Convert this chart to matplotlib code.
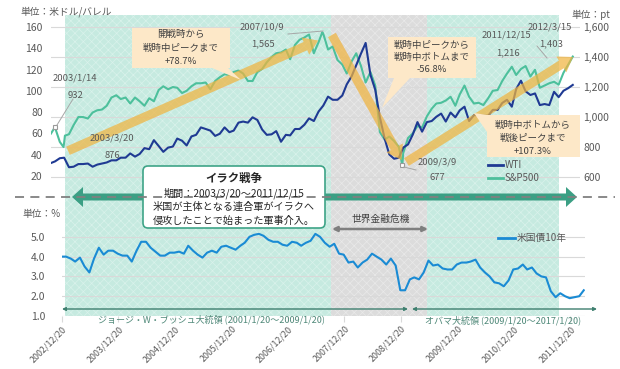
import matplotlib
matplotlib.use('Agg')
import matplotlib.pyplot as plt
import matplotlib.dates as mdates
from matplotlib.patches import Polygon, FancyBboxPatch, FancyArrowPatch
import pandas as pd

plt.rcParams['font.family'] = ['Noto Sans CJK JP', 'DejaVu Sans']
plt.rcParams['hatch.linewidth'] = 0.5

# ---------------- data ----------------
month_dates = [pd.Timestamp('2002-12-20')] + [pd.Timestamp(y, m, 15) for y in range(2003, 2013)
                                              for m in range(1, 13) if (y, m) <= (2012, 3)]

wti = [32.0,
       33.5, 36.5, 37.0, 28.0, 28.5, 31.0, 31.0, 31.5, 28.5, 30.5, 31.5, 32.5,
       34.5, 34.5, 37.0, 37.0, 41.0, 38.0, 40.5, 46.0, 45.0, 53.5, 48.0, 42.5,
       46.5, 47.5, 55.0, 53.0, 48.5, 57.0, 58.5, 65.5, 64.0, 62.5, 57.5, 59.5,
       65.5, 61.0, 62.5, 70.0, 71.0, 70.0, 75.0, 72.5, 63.5, 58.5, 59.0, 62.0,
       52.0, 58.5, 58.0, 64.0, 64.0, 68.0, 74.0, 71.5, 80.5, 86.0, 94.5, 91.5,
       91.5, 95.5, 106.0, 113.5, 124.0, 135.0, 145.0, 115.0, 101.0, 75.0, 55.0, 40.0,
       36.0, 37.0, 46.5, 49.5, 58.5, 70.5, 61.5, 70.5, 71.5, 75.5, 78.5, 71.0,
       79.5, 75.0, 81.5, 85.0, 71.5, 77.0, 77.0, 76.5, 76.5, 82.0, 82.0, 88.5,
       91.5, 85.0, 101.5, 109.5, 99.5, 96.0, 97.5, 86.5, 87.5, 86.5, 99.0, 94.0,
       100.0, 102.5, 105.5]

sp500 = [890,
         930, 834, 830, 885, 946, 1000, 1000, 990, 1030, 1045, 1050, 1075,
         1130, 1145, 1120, 1130, 1090, 1130, 1105, 1075, 1125, 1105, 1180, 1205,
         1185, 1200, 1195, 1160, 1175, 1205, 1225, 1225, 1230, 1185, 1240, 1265,
         1285, 1280, 1300, 1310, 1290, 1240, 1240, 1300, 1320, 1365, 1400, 1425,
         1430, 1450, 1385, 1480, 1515, 1530, 1550, 1425, 1500, 1555, 1450, 1470,
         1380, 1350, 1290, 1370, 1425, 1340, 1230, 1300, 1210, 900, 850, 870,
         840, 800, 760, 860, 890, 940, 930, 1005, 1055, 1090, 1095, 1110,
         1135, 1075, 1150, 1210, 1135, 1090, 1095, 1080, 1125, 1175, 1180, 1240,
         1290, 1335, 1280, 1320, 1340, 1270, 1315, 1195, 1210, 1225, 1235, 1216,
         1295, 1350, 1403]

ust10 = [4.0,
         4.0, 3.9, 3.75, 3.95, 3.5, 3.2, 3.9, 4.45, 4.1, 4.3, 4.3, 4.15,
         4.05, 4.05, 3.75, 4.3, 4.75, 4.75, 4.45, 4.25, 4.05, 4.05, 4.2, 4.2,
         4.25, 4.15, 4.55, 4.3, 4.1, 3.95, 4.2, 4.3, 4.2, 4.5, 4.55, 4.45,
         4.35, 4.55, 4.7, 5.0, 5.1, 5.15, 5.05, 4.85, 4.75, 4.75, 4.6, 4.55,
         4.75, 4.7, 4.55, 4.7, 4.8, 5.15, 5.0, 4.7, 4.5, 4.65, 4.15, 4.1,
         3.7, 3.75, 3.45, 3.7, 3.85, 4.15, 4.0, 3.85, 3.6, 3.9, 3.55, 2.3,
         2.3, 2.85, 2.95, 2.85, 3.2, 3.8, 3.55, 3.6, 3.4, 3.35, 3.35, 3.6,
         3.7, 3.7, 3.75, 3.85, 3.45, 3.2, 3.0, 2.7, 2.65, 2.5, 2.8, 3.35,
         3.4, 3.6, 3.35, 3.45, 3.15, 3.0, 2.95, 2.25, 1.95, 2.15, 2.0, 1.9,
         1.95, 2.0, 2.3]

# annotated S&P500 key points
sp_key_dates = ['2003-01-14', '2003-03-11', '2003-03-20', '2007-10-09', '2009-03-09']
sp_key_vals = [932, 800, 876, 1565, 677]

# trend arrows (S&P500 scale): start date, start value, end date, end value
trend_arrows = [('2003-04-09', 775, '2007-09-12', 1510),
                ('2007-12-10', 1547, '2009-03-04', 713),
                ('2009-04-05', 700, '2012-03-17', 1400)]

war_period = ('2003-03-20', '2011-12-15')
crisis_period = ('2007-12-03', '2009-08-15')

xtick_labels = [f'{y}/12/20' for y in range(2002, 2012)]
left_ticks = [20, 40, 60, 80, 100, 120, 140, 160]
right_ticks = [600, 800, 1000, 1200, 1400, 1600]
bottom_ticks = [1.0, 2.0, 3.0, 4.0, 5.0]

# ---------------- figure ----------------
W, H = 620, 369
fig = plt.figure(figsize=(W / 100, H / 100), dpi=100)

def fbox(x0, y0, x1, y1):
    return [x0 / W, 1 - y1 / H, (x1 - x0) / W, (y1 - y0) / H]

PXYR = 56.5
d0 = mdates.date2num(pd.Timestamp('2002-12-20'))
top_xlim = (d0, d0 + (580 - 51) / PXYR * 365.25)
bot_xlim = (d0, d0 + (585 - 62) / PXYR * 365.25)

TXT = '#595959'
GRID = '#d9d9d9'
C_WTI = '#1f3a93'
C_SP = '#4dc09c'
C_UST = '#1a8bd4'

# background shading
bg = fig.add_axes(fbox(51, 15, 580, 316), zorder=0)
bg.set_xlim(*top_xlim)
bg.set_ylim(0, 1)
bg.axis('off')
bg.axvspan(mdates.date2num(pd.Timestamp(war_period[0])), mdates.date2num(pd.Timestamp(war_period[1])),
           facecolor='#c6eae0', edgecolor='#d9f2eb', hatch='xxxx', lw=0)
bg.axvspan(mdates.date2num(pd.Timestamp(crisis_period[0])), mdates.date2num(pd.Timestamp(crisis_period[1])),
           facecolor='#dcdcdc', edgecolor='#e9e9e9', hatch='xxxx', lw=0)

# top panel
ax_sp = fig.add_axes(fbox(51, 15, 580, 197), zorder=1)
ax_sp.patch.set_visible(False)
ax_wti = ax_sp.twinx()
ax_wti.patch.set_visible(False)
for a in (ax_sp, ax_wti):
    for s in a.spines.values():
        s.set_visible(False)
    a.set_xlim(*top_xlim)
    a.tick_params(axis='x', bottom=False, labelbottom=False)

ax_sp.set_ylim(467, 1680)
ax_sp.set_yticks(right_ticks)
ax_sp.set_yticklabels([f'{v:,}' for v in right_ticks])
ax_sp.yaxis.tick_right()
ax_sp.tick_params(axis='y', length=0, pad=2.5, labelsize=7.5, labelcolor=TXT)
ax_sp.grid(axis='y', color=GRID, lw=0.8)
ax_sp.set_axisbelow(True)

ax_wti.set_ylim(0, 171.3)
ax_wti.set_yticks(left_ticks)
ax_wti.yaxis.tick_left()
ax_wti.tick_params(axis='y', length=0, pad=6, labelsize=7.5, labelcolor=TXT)

md = mdates.date2num(month_dates)
kd = mdates.date2num(pd.to_datetime(sp_key_dates))
sp_all = sorted(list(zip(md, sp500)) + list(zip(kd, sp_key_vals)))
ax_sp.plot([p[0] for p in sp_all], [p[1] for p in sp_all], color=C_SP, lw=1.5, zorder=3)
ax_wti.plot(md, wti, color=C_WTI, lw=1.5, zorder=3)

# markers at key points
for d, v in [(kd[0], sp_key_vals[0]), (kd[4], sp_key_vals[4])]:
    ax_wti.plot([d], [v], marker='s', ms=3.5, mfc='white', mec='#9a9a9a', mew=0.8,
                transform=ax_sp.transData, clip_on=False, zorder=6)

# trend arrows
for sd, sv, ed, ev in trend_arrows:
    p = FancyArrowPatch((mdates.date2num(pd.Timestamp(sd)), sv), (mdates.date2num(pd.Timestamp(ed)), ev),
                        arrowstyle='simple,head_length=1.0,head_width=1.35,tail_width=0.65',
                        mutation_scale=10, color='#f0b440', alpha=0.72, lw=0,
                        shrinkA=0, shrinkB=0, transform=ax_sp.transData, clip_on=False, zorder=5)
    ax_wti.add_patch(p)

# bottom panel
ax_b = fig.add_axes(fbox(62, 220, 585, 316), zorder=1)
ax_b.patch.set_visible(False)
for s in ax_b.spines.values():
    s.set_visible(False)
ax_b.set_xlim(*bot_xlim)
ax_b.set_ylim(1.0, 5.85)
ax_b.set_yticks(bottom_ticks)
ax_b.set_yticklabels([f'{v:.1f}' for v in bottom_ticks])
ax_b.tick_params(axis='y', length=0, pad=12, labelsize=7.5, labelcolor=TXT)
ax_b.grid(axis='y', color=GRID, lw=0.8)
ax_b.set_axisbelow(True)
xt = mdates.date2num(pd.to_datetime([f'{y}-12-20' for y in range(2002, 2012)]))
ax_b.set_xticks(xt)
ax_b.set_xticklabels(xtick_labels, rotation=45, ha='right', rotation_mode='anchor')
ax_b.tick_params(axis='x', length=4, color=GRID, pad=2, labelsize=6.4, labelcolor=TXT)
ax_b.plot(md, ust10, color=C_UST, lw=1.5, zorder=3)

# ---------------- overlay (pixel coords) ----------------
ov = fig.add_axes([0, 0, 1, 1], zorder=10)
ov.set_xlim(0, W)
ov.set_ylim(H, 0)
ov.axis('off')
ov.patch.set_visible(False)

# unit labels
ov.text(20, 12, '単位：米ドル/バレル', fontsize=7, color=TXT, va='center')
ov.text(571, 15, '単位：pt', fontsize=7, color=TXT, va='center')
ov.text(22, 214, '単位：%', fontsize=7, color=TXT, va='center')

# callouts
PEACH = '#fde8c8'
c1 = [(132, 28), (230, 28), (230, 68), (228, 68), (241, 80), (212, 68), (132, 68)]
c2 = [(388, 37), (476, 37), (476, 78), (410, 78), (382, 108), (394, 78), (388, 78)]
c3 = [(487, 115), (580, 115), (580, 157), (487, 157), (487, 132), (474, 113)]
for c in (c1, c2, c3):
    ov.add_patch(Polygon(c, closed=True, facecolor=PEACH, edgecolor='none', zorder=2))
for cx, ys, lines in [(181, (34, 48, 62), ('開戦時から', '戦時中ピークまで', '+78.7%')),
                      (432, (45, 57.5, 70), ('戦時中ピークから', '戦時中ボトムまで', '-56.8%')),
                      (533, (125, 138, 151), ('戦時中ボトムから', '戦後ピークまで', '+107.3%'))]:
    for y, t in zip(ys, lines):
        ov.text(cx, y, t, fontsize=6.8, color='#404040', ha='center', va='center', zorder=3)

# point labels
def lab(x, y, t):
    ov.text(x, y, t, fontsize=6.8, color=TXT, va='center', zorder=3)
lab(53, 78, '2003/1/14'); lab(68, 95, '932')
lab(90, 138, '2003/3/20'); lab(105, 155, '876')
lab(240, 27, '2007/10/9'); lab(251, 44, '1,565')
lab(418, 162, '2009/3/9'); lab(430, 178, '677')
lab(482, 35, '2011/12/15'); lab(496, 53, '1,216')
lab(528, 27, '2012/3/15'); lab(539, 44, '1,403')
LEAD = '#a6a6a6'
for (x0, y0), (x1, y1) in [((57, 125), (73, 99)), ((288, 34), (323, 31)),
                           ((404, 167), (416, 170)), ((537, 46), (547, 58))]:
    ov.plot([x0, x1], [y0, y1], color=LEAD, lw=0.7, zorder=3)

# legends
ov.plot([488, 503], [165, 165], color=C_WTI, lw=2)
ov.text(505, 165, 'WTI', fontsize=7, color=TXT, va='center')
ov.plot([488, 503], [178, 178], color=C_SP, lw=2)
ov.text(505, 178, 'S&P500', fontsize=7, color=TXT, va='center')
ov.plot([498, 515], [238, 238], color=C_UST, lw=2)
ov.text(517, 238, '米国債10年', fontsize=7, color=TXT, va='center')

# big green double arrow
GA = '#3b9f84'
ga = [(72, 197), (83, 187), (83, 193.5), (566, 193.5), (566, 187), (577, 197),
      (566, 207), (566, 200.5), (83, 200.5), (83, 207)]
ov.add_patch(Polygon(ga, closed=True, facecolor=GA, edgecolor='none', zorder=4))

# Iraq war box
ov.add_patch(FancyBboxPatch((143, 166), 182, 62, boxstyle='round,pad=0,rounding_size=5',
                            facecolor='white', edgecolor='#3ea487', lw=1.2, zorder=5))
ov.plot([15, 615], [197, 197], color='#808080', lw=1.3, dashes=(5, 3.5), zorder=6)
ov.text(234, 178, 'イラク戦争', fontsize=8.2, fontweight='bold', color='#262626', ha='center', va='center', zorder=7)
ov.text(234, 193, '期間：2003/3/20～2011/12/15', fontsize=7.3, color='#262626', ha='center', va='center', zorder=7)
ov.text(234, 207, '米国が主体となる連合軍がイラクへ', fontsize=7.3, color='#262626', ha='center', va='center', zorder=7)
ov.text(234, 221, '侵攻したことで始まった軍事介入。', fontsize=7.3, color='#262626', ha='center', va='center', zorder=7)

# financial crisis
ov.text(381, 219, '世界金融危機', fontsize=7, color='#404040', ha='center', va='center')
ov.annotate('', xy=(332, 229), xytext=(428, 229),
            arrowprops=dict(arrowstyle='<|-|>', color='#7f7f7f', lw=1.8, mutation_scale=7,
                            shrinkA=0, shrinkB=0))

# presidents
PA = '#3e7f6f'
ov.annotate('', xy=(62, 309), xytext=(408, 309),
            arrowprops=dict(arrowstyle='<|-|>', color=PA, lw=1, mutation_scale=5, shrinkA=0, shrinkB=0))
ov.annotate('', xy=(412, 309), xytext=(597, 309),
            arrowprops=dict(arrowstyle='<|-|>', color=PA, lw=1, mutation_scale=5, shrinkA=0, shrinkB=0))
ov.text(211, 319, 'ジョージ・W・ブッシュ大統領 (2001/1/20～2009/1/20)', fontsize=6.5, color='#4e8878',
        ha='center', va='center')
ov.text(503, 320, 'オバマ大統領 (2009/1/20～2017/1/20)', fontsize=6.5, color='#4e8878',
        ha='center', va='center')

fig.savefig('out.png', dpi=100)
